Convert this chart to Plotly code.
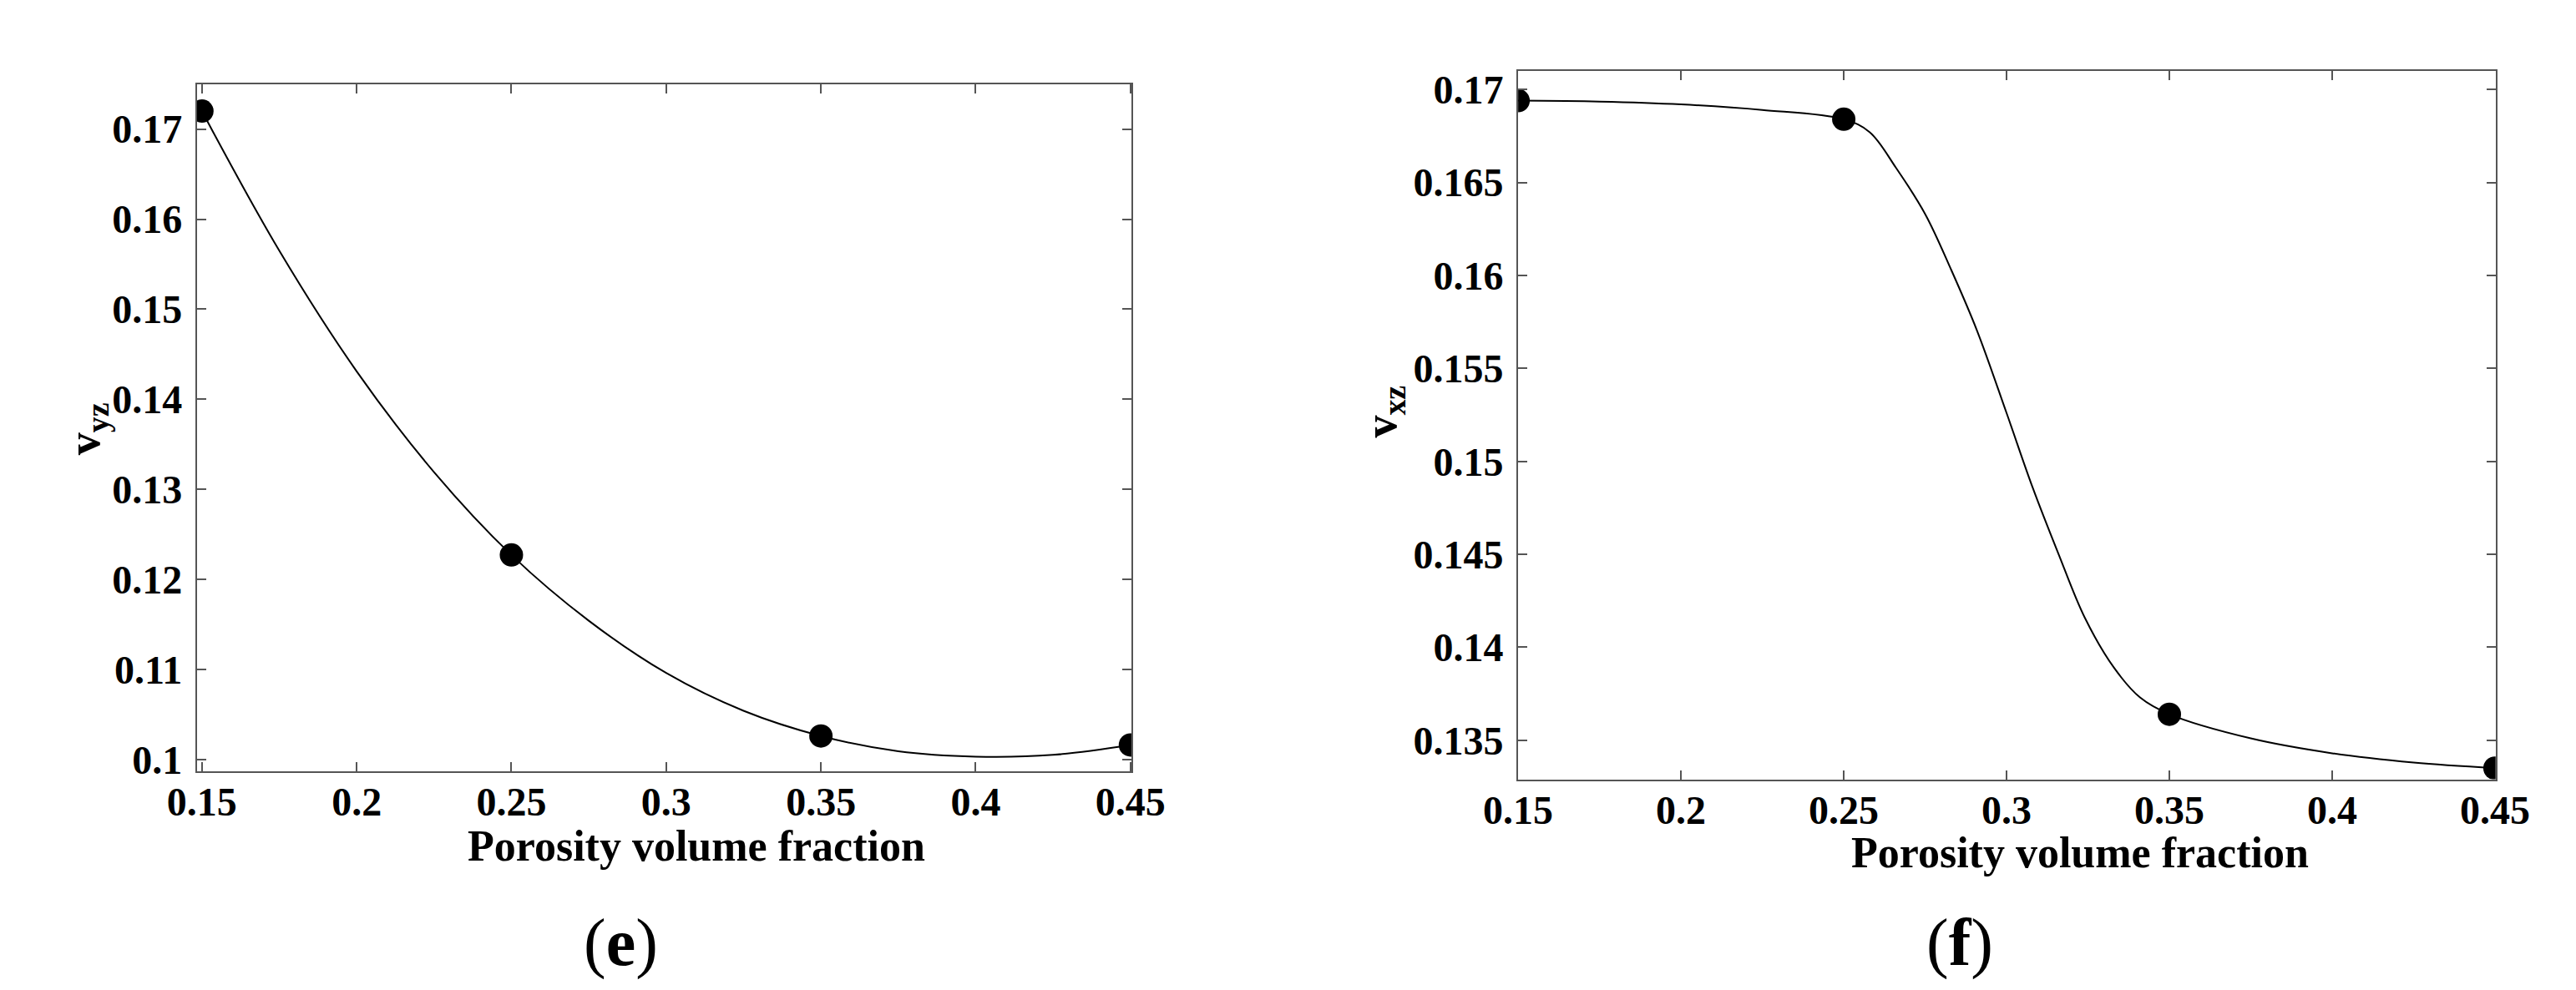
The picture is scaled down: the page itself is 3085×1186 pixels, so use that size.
import plotly.graph_objects as go

W, H = 3085, 1186

# ---------------- data ----------------
porosity = [0.15, 0.25, 0.35, 0.45]

# (e) v_yz
vyz_points = [0.1720, 0.1227, 0.1026, 0.1016]
vyz_curve_x = [0.15, 0.175, 0.2, 0.225, 0.25, 0.275, 0.3, 0.325, 0.35, 0.375, 0.4, 0.425, 0.45]
vyz_curve_y = [0.1720, 0.1565, 0.1431, 0.1319, 0.1227, 0.1154, 0.1096, 0.1054, 0.1026, 0.1009, 0.1003, 0.1005, 0.1016]

# (f) v_xz
vxz_points = [0.1694, 0.1684, 0.1364, 0.1335]
vxz_curve_x = [0.15, 0.175, 0.2, 0.225, 0.25, 0.258, 0.266, 0.275, 0.283, 0.291, 0.3,
               0.308, 0.316, 0.324, 0.333, 0.341, 0.35, 0.375, 0.4, 0.425, 0.45]
vxz_curve_y = [0.1694, 0.16935, 0.1692, 0.1689, 0.1684, 0.1677, 0.1658, 0.1633, 0.1603, 0.1570, 0.1526,
               0.1486, 0.1450, 0.1416, 0.1389, 0.1373, 0.1364, 0.1351, 0.1343, 0.1338, 0.1335]

x_tickvals = [0.15, 0.2, 0.25, 0.3, 0.35, 0.4, 0.45]
x_ticktext = ["0.15", "0.2", "0.25", "0.3", "0.35", "0.4", "0.45"]
e_tickvals = [0.10, 0.11, 0.12, 0.13, 0.14, 0.15, 0.16, 0.17]
e_ticktext = ["0.1", "0.11", "0.12", "0.13", "0.14", "0.15", "0.16", "0.17"]
f_tickvals = [0.135, 0.14, 0.145, 0.15, 0.155, 0.16, 0.165, 0.17]
f_ticktext = ["0.135", "0.14", "0.145", "0.15", "0.155", "0.16", "0.165", "0.17"]

x_title = "Porosity volume fraction"
e_ytitle = "v<sub>yz</sub>"
f_ytitle = "v<sub>xz</sub>"
panel_labels = ["(<b>e</b>)", "(<b>f</b>)"]

# ---------------- figure ----------------
FONT = "Liberation Serif"
fig = go.Figure()

fig.add_trace(go.Scatter(x=vyz_curve_x, y=vyz_curve_y, mode="lines",
                         line=dict(color="black", width=2, shape="spline", smoothing=1.0),
                         xaxis="x", yaxis="y", hoverinfo="skip"))
fig.add_trace(go.Scatter(x=porosity, y=vyz_points, mode="markers",
                         marker=dict(color="black", size=28), xaxis="x", yaxis="y"))
fig.add_trace(go.Scatter(x=vxz_curve_x, y=vxz_curve_y, mode="lines",
                         line=dict(color="black", width=2, shape="spline", smoothing=1.0),
                         xaxis="x2", yaxis="y2", hoverinfo="skip"))
fig.add_trace(go.Scatter(x=porosity, y=vxz_points, mode="markers",
                         marker=dict(color="black", size=28), xaxis="x2", yaxis="y2"))

def px_x(p):
    return p / W

def px_y(p):
    return 1 - p / H

tickfont = dict(family=FONT, size=48, color="black", weight="bold")
axis_common = dict(showline=True, linecolor="#555555", linewidth=2, mirror="ticks",
                   ticks="inside", ticklen=11, tickwidth=2, tickcolor="#555555",
                   showgrid=False, zeroline=False, tickfont=tickfont)

fig.update_layout(
    width=W, height=H,
    margin=dict(l=0, r=0, t=0, b=0),
    paper_bgcolor="white", plot_bgcolor="white",
    showlegend=False,
    xaxis=dict(domain=[px_x(191), px_x(1341)], range=[0.1484, 0.4503],
               tickvals=x_tickvals, ticktext=x_ticktext, anchor="y",
               ticklabelstandoff=-6, **axis_common),
    yaxis=dict(domain=[px_y(925), px_y(90)], range=[0.0987, 0.1750],
               tickvals=e_tickvals, ticktext=e_ticktext, anchor="x",
               ticklabelstandoff=6, **axis_common),
    xaxis2=dict(domain=[px_x(1817), px_x(3020)], range=[0.15, 0.4502],
                tickvals=x_tickvals, ticktext=x_ticktext, anchor="y2",
                ticklabelstandoff=-6, **axis_common),
    yaxis2=dict(domain=[px_y(935), px_y(74)], range=[0.1329, 0.1710],
                tickvals=f_tickvals, ticktext=f_ticktext, anchor="x2",
                ticklabelstandoff=6, **axis_common),
)

title_font = dict(family=FONT, size=52, color="black", weight="bold")
ann = [
    dict(text=x_title, x=px_x(806), y=px_y(1016), font=title_font),
    dict(text=x_title, x=px_x(2508), y=px_y(1024), font=title_font),
    dict(text=e_ytitle, x=px_x(56), y=px_y(509), textangle=-90,
         font=dict(family=FONT, size=54, color="black", weight="bold")),
    dict(text=f_ytitle, x=px_x(1651), y=px_y(488), textangle=-90,
         font=dict(family=FONT, size=54, color="black", weight="bold")),
    dict(text=panel_labels[0], x=px_x(713), y=px_y(1134),
         font=dict(family=FONT, size=80, color="black")),
    dict(text=panel_labels[1], x=px_x(2361), y=px_y(1134),
         font=dict(family=FONT, size=80, color="black")),
]
for a in ann:
    a.update(xref="paper", yref="paper", showarrow=False, xanchor="center", yanchor="middle")
    fig.add_annotation(**a)

fig.write_html("out.html")
